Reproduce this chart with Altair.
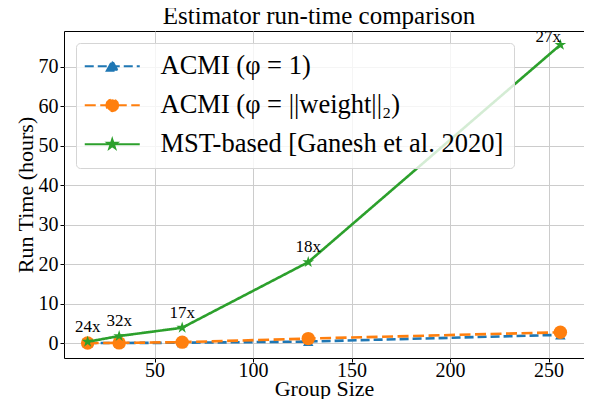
import altair as alt
import pandas as pd

# ---- data ----
group_sizes = [16, 32, 64, 128, 256]
acmi_phi_one = [0.02, 0.04, 0.10, 0.40, 2.10]
acmi_phi_weight = [0.03, 0.06, 0.25, 1.15, 2.75]
mst_based = [0.35, 1.8, 3.9, 20.5, 75.5]
speedup_labels = ["24x", "32x", "17x", "18x", "27x"]

series_names = [
    "ACMI (φ = 1)",
    "ACMI (φ = ||weight||₂)",
    "MST-based [Ganesh et al. 2020]",
]
series_colors = ["#1f77b4", "#ff7f0e", "#2ca02c"]
x_ticks = [50, 100, 150, 200, 250]
y_ticks = [0, 10, 20, 30, 40, 50, 60, 70]

rows = []
for name, vals in zip(series_names, [acmi_phi_one, acmi_phi_weight, mst_based]):
    for s, v in zip(group_sizes, vals):
        rows.append({"series": name, "size": s, "time": v})
df = pd.DataFrame(rows)

df_mst = pd.DataFrame({"size": group_sizes, "time": mst_based, "label": speedup_labels,
                       "idx": list(range(len(group_sizes)))})

STAR = ("M0,-1L0.2245,-0.309L0.9511,-0.309L0.3633,0.118L0.5878,0.809L0,0.382"
        "L-0.5878,0.809L-0.3633,0.118L-0.9511,-0.309L-0.2245,-0.309Z")
LEG_TRI = "M-5.5,0L5.5,0M-1.1,0.9L0,-1.1L1.1,0.9Z"
LEG_CIR = ("M-5.5,0L5.5,0M1.2,0L1.04,0.6L0.6,1.04L0,1.2L-0.6,1.04L-1.04,0.6L-1.2,0"
           "L-1.04,-0.6L-0.6,-1.04L0,-1.2L0.6,-1.04L1.04,-0.6Z")
LEG_STAR = ("M-5.5,0L5.5,0M0,-1L0.2245,-0.309L0.9511,-0.309L0.3633,0.118L0.5878,0.809L0,0.382"
            "L-0.5878,0.809L-0.3633,0.118L-0.9511,-0.309L-0.2245,-0.309Z")
line_dashes = [[9, 4], [11, 4.5], [1, 0]]

FONT = "Liberation Serif"

x_enc = alt.X("size:Q",
              scale=alt.Scale(domain=[4, 268], nice=False, zero=False),
              axis=alt.Axis(values=x_ticks, title="Group Size", titleY=37,
                            titleBaseline="alphabetic", labelBaseline="alphabetic",
                            labelPadding=14))
y_enc = alt.Y("time:Q",
              scale=alt.Scale(domain=[-3.76, 79.0], nice=False, zero=False),
              axis=alt.Axis(values=y_ticks, title="Run Time (hours)", titleX=-39,
                            titleBaseline="middle"))

base = alt.Chart(df)

line_layers = []
point_layers = []
marker_shapes = ["triangle-up", "circle", STAR]
marker_sizes = [110, 180, 150]
for name, col, dash, shp, sz in zip(series_names, series_colors, line_dashes,
                                    marker_shapes, marker_sizes):
    sub = base.transform_filter(alt.datum.series == name)
    line_layers.append(
        sub.mark_line(strokeWidth=2.6, strokeDash=dash, color=col)
        .encode(x=x_enc, y=y_enc)
    )
    point_layers.append(
        sub.mark_point(filled=True, opacity=1, shape=shp, size=sz, color=col)
        .encode(x=x_enc, y=y_enc)
    )

labels_main = alt.Chart(df_mst).transform_filter(alt.datum.idx < 4).mark_text(
    font=FONT, fontSize=17, dy=-15, color="black"
).encode(x=x_enc, y=y_enc, text="label:N")

labels_last = alt.Chart(df_mst).transform_filter(alt.datum.idx == 4).mark_text(
    font=FONT, fontSize=17, dy=-8, dx=-12, color="black"
).encode(x=x_enc, y=y_enc, text="label:N")

color_scale = alt.Scale(domain=series_names, range=series_colors)
legend_layer = base.mark_point(filled=True, opacity=0, size=100, strokeWidth=2).encode(
    x=x_enc, y=y_enc,
    fill=alt.Fill("series:N", scale=color_scale, legend=alt.Legend(title=None)),
    stroke=alt.Stroke("series:N", scale=color_scale, legend=alt.Legend(title=None)),
    shape=alt.Shape("series:N", scale=alt.Scale(domain=series_names,
                                                range=[LEG_TRI, LEG_CIR, LEG_STAR]),
                    legend=alt.Legend(title=None)),
    strokeDash=alt.StrokeDash("series:N",
                              scale=alt.Scale(domain=series_names, range=line_dashes),
                              legend=alt.Legend(title=None)),
)

layers = []
for ln, pt in zip(line_layers, point_layers):
    layers += [ln, pt]

chart = alt.layer(*layers, labels_main, labels_last, legend_layer).properties(
    width=520,
    height=327,
    title=alt.TitleParams("Estimator run-time comparison", font=FONT, fontSize=25,
                          fontWeight="normal", color="black", baseline="alphabetic",
                          offset=4, dy=25.5, dx=-5, anchor="middle", frame="group"),
    autosize=alt.AutoSizeParams(type="none"),
    padding={"left": 56, "top": 23, "right": 0, "bottom": 41},
).configure_view(
    stroke="black", strokeWidth=1
).configure_axis(
    labelFont=FONT, labelFontSize=20, labelColor="black",
    titleFont=FONT, titleFontSize=22, titleFontWeight="normal", titleColor="black",
    domain=False, tickColor="black", tickSize=4, tickWidth=1, labelPadding=2,
    grid=True, gridColor="#cccccc", gridWidth=1,
).configure_legend(
    orient="top-left", offset=12, padding=10,
    labelFont=FONT, labelFontSize=26.5, labelLimit=600, labelColor="black",
    labelBaseline="middle",
    symbolOffset=13, labelOffset=35, rowPadding=12,
    fillColor="rgba(255,255,255,0.8)", strokeColor="#d5d5d5", cornerRadius=4,
    symbolOpacity=1, symbolSize=100, symbolStrokeWidth=2,
)

chart.save("out.html", embed_options={"renderer": "svg", "actions": False})
